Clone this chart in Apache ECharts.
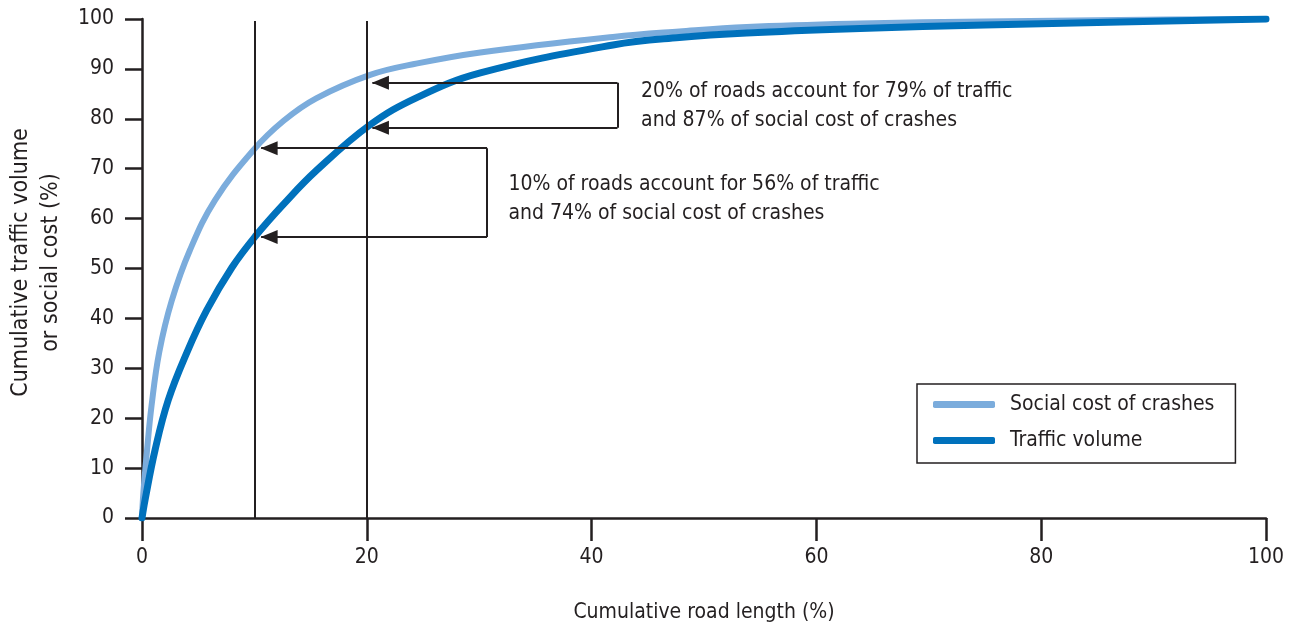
<!DOCTYPE html>
<html><head><meta charset="utf-8">
<script src="https://cdn.jsdelivr.net/npm/echarts@6/dist/echarts.min.js"></script>
<style>html,body{margin:0;padding:0;background:#fff}#c{width:1293px;height:629px}</style>
</head><body><div id="c"></div>
<script>
// ---- data ----
const socialX  = [0, 0.12, 0.45, 0.85, 1.53, 2.64, 4.27, 6.5, 9.9, 12.6, 15.5, 20.3, 24.5, 30.1, 41.9, 47.8, 53.8, 63.9, 75, 87, 100];
const socialY  = [0, 5, 13.6, 22.5, 33.2, 43.5, 53.7, 63.7, 73.7, 79.6, 84.1, 88.8, 91.1, 93.3, 96.4, 97.5, 98.4, 99.1, 99.5, 99.8, 100];
const trafficX = [0, 0.27, 1.16, 2.33, 4.0, 5.75, 8.0, 10.1, 12.6, 15.5, 20.3, 24.5, 30.1, 41.9, 47.8, 53.8, 63.9, 75, 87, 100];
const trafficY = [0, 3.6, 13.6, 23.6, 33.2, 41.6, 50.2, 56.5, 62.9, 69.6, 78.8, 84.3, 89.2, 94.8, 96.3, 97.2, 98.1, 98.8, 99.4, 100];
const seriesNames = ['Social cost of crashes', 'Traffic volume'];
const refLineX = [10, 20];
const arrowTipX = [20.5, 10.6];
const boxRightX = [42.3, 30.7];
const arrowUpperY = [87.2, 74.1];
const arrowLowerY = [78.2, 56.3];
const noteX = [44.4, 32.6];
const noteY = [82.5, 64.0];
const notes = [
  '20% of roads account for 79% of traffic\nand 87% of social cost of crashes',
  '10% of roads account for 56% of traffic\nand 74% of social cost of crashes'
];
const xAxisName = 'Cumulative road length (%)';
const yAxisName = 'Cumulative traffic volume\nor social cost (%)';

// ---- style ----
const FONT = "'Liberation Sans Narrow','DejaVu Sans Condensed','Roboto Condensed','Arial Narrow',Roboto,sans-serif";
const INK = '#231f20';
const LIGHT = '#7bacdc';
const DARK = '#0071bc';
const FS = 21;

const zip = (xs, ys) => xs.map((x, i) => [x, ys[i]]);

const annotationLines = [];
refLineX.forEach(x => annotationLines.push([{coord: [x, 0], symbol: 'none'}, {coord: [x, 99.6], symbol: 'none'}]));
arrowTipX.forEach((tip, i) => {
  const r = boxRightX[i];
  annotationLines.push([{coord: [r, arrowUpperY[i]], symbol: 'none'}, {coord: [tip, arrowUpperY[i]], symbol: 'triangle', symbolSize: [14, 17], symbolOffset: [0, 8]}]);
  annotationLines.push([{coord: [r, arrowUpperY[i]], symbol: 'none'}, {coord: [r, arrowLowerY[i]], symbol: 'none'}]);
  annotationLines.push([{coord: [r, arrowLowerY[i]], symbol: 'none'}, {coord: [tip, arrowLowerY[i]], symbol: 'triangle', symbolSize: [14, 17], symbolOffset: [0, 8]}]);
});

const notePoints = notes.map((t, i) => ({
  coord: [noteX[i], noteY[i]],
  symbol: 'circle', symbolSize: 0,
  label: {show: true, formatter: t, position: 'right', distance: 0, align: 'left', verticalAlign: 'middle',
          fontFamily: FONT, fontSize: FS, lineHeight: 29, color: INK}
}));

const chart = echarts.init(document.getElementById('c'), null, {renderer: 'canvas'});
chart.setOption({
  animation: false,
  backgroundColor: '#fff',
  textStyle: {fontFamily: FONT, color: INK},
  grid: {left: 142, right: 27, top: 19, bottom: 111, containLabel: false, outerBoundsMode: 'none'},
  legend: {
    data: seriesNames,
    orient: 'vertical',
    left: 917, top: 384,
    borderColor: INK, borderWidth: 1.5,
    padding: [10, 21, 12, 16],
    itemWidth: 62, itemHeight: 7, itemGap: 15,
    icon: 'roundRect',
    textStyle: {fontFamily: FONT, fontSize: FS, color: INK, padding: [0, 0, 0, 10]}
  },
  xAxis: {
    type: 'value', min: 0, max: 100, interval: 20,
    name: xAxisName, nameLocation: 'middle', nameGap: 84,
    nameTextStyle: {fontFamily: FONT, fontSize: FS, color: INK},
    axisLine: {lineStyle: {color: INK, width: 2.5}},
    axisTick: {show: true, length: 23, lineStyle: {color: INK, width: 2.5}},
    axisLabel: {fontFamily: FONT, fontSize: FS, color: INK, margin: 29},
    splitLine: {show: false}
  },
  yAxis: {
    type: 'value', min: 0, max: 100, interval: 10,
    name: yAxisName, nameLocation: 'middle', nameGap: 76, nameRotate: 90,
    nameTextStyle: {fontFamily: FONT, fontSize: 23, color: INK, lineHeight: 30, padding: [0, 0, 0, 12]},
    axisLine: {show: true, lineStyle: {color: INK, width: 2.5}},
    axisTick: {show: true, length: 17, lineStyle: {color: INK, width: 2.5}},
    axisLabel: {fontFamily: FONT, fontSize: FS, color: INK, margin: 28},
    splitLine: {show: false}
  },
  series: [
    {
      name: 'annotations', type: 'line', data: [], silent: true,
      markLine: {
        silent: true, symbol: 'none', animation: false,
        lineStyle: {color: INK, width: 2, type: 'solid'},
        itemStyle: {color: INK},
        label: {show: false},
        emphasis: {disabled: true},
        data: annotationLines
      },
      markPoint: {silent: true, data: notePoints}
    },
    {
      name: seriesNames[0], type: 'line', data: zip(socialX, socialY),
      showSymbol: false, symbol: 'none', smooth: 0.4, smoothConstraint: false,
      color: LIGHT, lineStyle: {color: LIGHT, width: 6, cap: 'round', join: 'round'}, z: 3
    },
    {
      name: seriesNames[1], type: 'line', data: zip(trafficX, trafficY),
      showSymbol: false, symbol: 'none', smooth: 0.4, smoothConstraint: false,
      color: DARK, lineStyle: {color: DARK, width: 7, cap: 'round', join: 'round'}, z: 4
    }
  ]
});
</script></body></html>
